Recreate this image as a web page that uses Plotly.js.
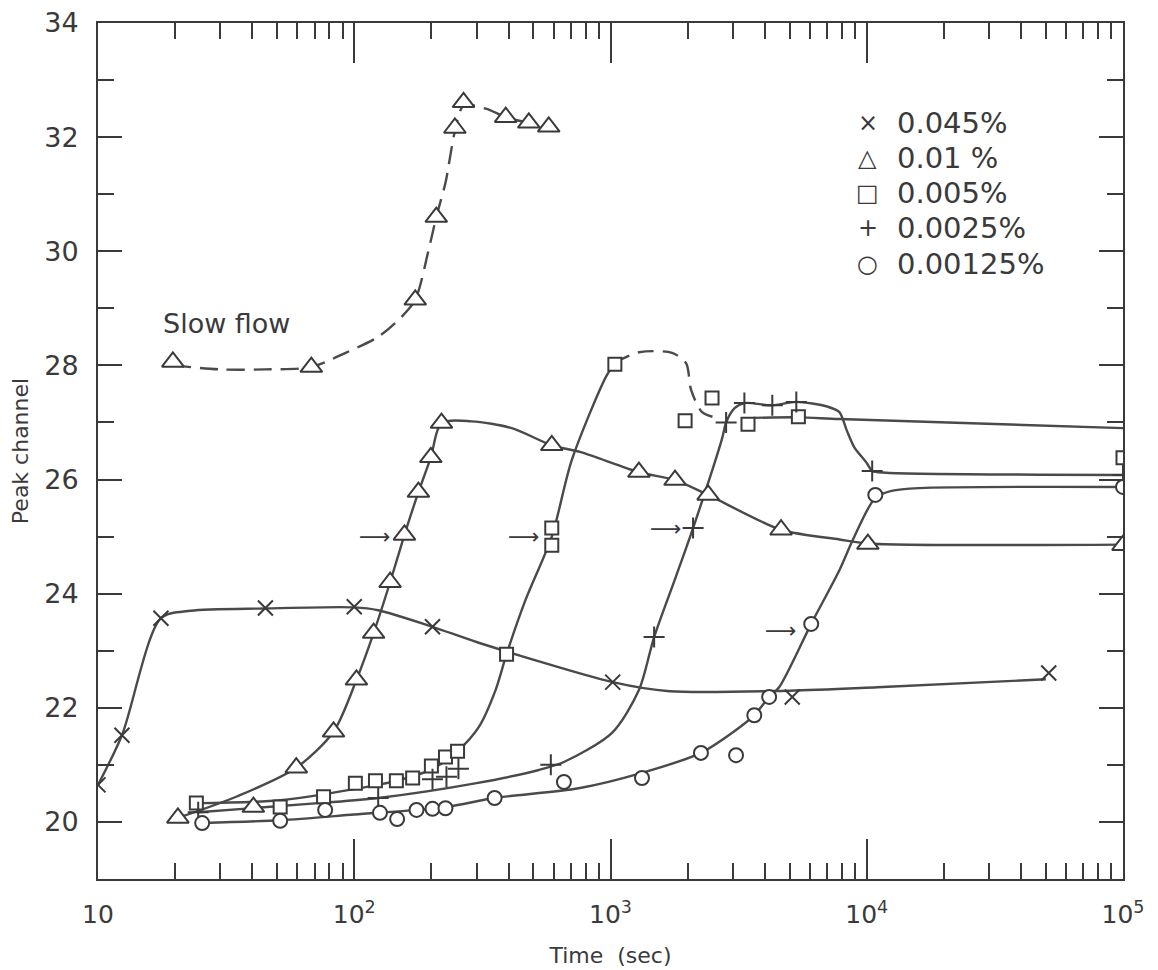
<!DOCTYPE html>
<html>
<head>
<meta charset="utf-8">
<script src="https://cdn.plot.ly/plotly-3.0.1.min.js"></script>
<style>body{margin:0;background:#fff}#chart{width:1158px;height:970px}</style>
</head>
<body>
<div id="chart"></div>
<script>
// ---------- DATA ----------
const xTickVals = [10, 100, 1000, 10000, 100000];
const xTickText = ['10', '10<sup>2</sup>', '10<sup>3</sup>', '10<sup>4</sup>', '10<sup>5</sup>'];
const yTickVals = [20, 22, 24, 26, 28, 30, 32, 34];
const yMinorVals = [19, 21, 23, 25, 27, 29, 31, 33];

const legendSymbols = ['\u00d7', '\u25b3', '\u25a1', '+', '\u25cb'];
const legendLabels = ['0.045%', '0.01 %', '0.005%', '0.0025%', '0.00125%'];

// 0.045 % (x)
const s045X = [10, 12.4, 17.6, 45, 100, 202, 1020, 5120, 51300];
const s045Y = [20.65, 21.52, 23.57, 23.75, 23.77, 23.42, 22.45, 22.19, 22.61];
const c045X = [10, 12.4, 17.6, 23, 45, 100, 124, 202, 306, 1020, 1700, 5000, 11000, 50000];
const c045Y = [20.65, 21.52, 23.57, 23.7, 23.74, 23.76, 23.71, 23.42, 23.14, 22.45, 22.29, 22.3, 22.36, 22.5];

// 0.01 % (triangle) - normal flow
const s01X = [20.5, 40.4, 59.4, 83, 102, 119, 138, 157, 178, 199, 219, 590, 1291, 1786, 2404, 4630, 10100, 100000];
const s01Y = [20.07, 20.26, 20.95, 21.58, 22.49, 23.31, 24.2, 25.03, 25.78, 26.39, 26.99, 26.6, 26.13, 25.99, 25.73, 25.12, 24.87, 24.85];
const c01X = [20.5, 35, 59.4, 83, 102, 119, 138, 157, 178, 199, 219, 287, 412, 590, 766, 1291, 1786, 2404, 4630, 7820, 10100, 100000];
const c01Y = [20.07, 20.45, 20.95, 21.58, 22.49, 23.31, 24.2, 25.03, 25.78, 26.39, 26.99, 27.02, 26.9, 26.6, 26.48, 26.13, 25.99, 25.73, 25.12, 24.95, 24.88, 24.86];

// 0.01 % (triangle) - slow flow
const sSlowX = [19.6, 68, 173, 209, 247, 267, 390, 480, 574];
const sSlowY = [28.06, 27.97, 29.15, 30.6, 32.16, 32.61, 32.35, 32.25, 32.18];
const cSlowX = [19.6, 30, 45, 68, 92.5, 124, 153, 173, 195, 209, 227, 247, 267, 326, 390, 480];
const cSlowY = [28.0, 27.93, 27.93, 27.97, 28.22, 28.5, 28.85, 29.15, 30.02, 30.6, 31.2, 32.1, 32.55, 32.5, 32.35, 32.25];

// 0.005 % (square)
const s005X = [24.2, 51.4, 75.9, 101, 121, 146, 169, 200, 227, 253, 393, 590, 590, 1040, 1955, 2490, 3440, 5410, 100000];
const s005Y = [20.33, 20.26, 20.44, 20.68, 20.72, 20.72, 20.77, 20.98, 21.14, 21.24, 22.94, 25.15, 24.85, 28.02, 27.03, 27.43, 26.97, 27.1, 26.38];
const c005aX = [24.2, 51.4, 101, 146, 200, 253, 306, 356, 393, 466, 590, 706, 968, 1040];
const c005aY = [20.33, 20.38, 20.58, 20.72, 20.92, 21.24, 21.66, 22.31, 22.94, 23.89, 25.0, 26.34, 27.83, 28.02];
const c005bX = [1040, 1291, 1738, 1972, 2063, 2277, 2600];
const c005bY = [28.05, 28.23, 28.22, 28.04, 27.57, 27.18, 27.08];
const c005cX = [3600, 5410, 7820, 100000];
const c005cY = [27.08, 27.09, 27.06, 26.9];

// 0.0025 % (plus)
const s0025X = [24.6, 124, 202, 229, 255, 585, 1480, 2100, 2826, 3330, 4280, 5310, 10500, 100000];
const s0025Y = [20.17, 20.42, 20.75, 20.79, 20.93, 21.0, 23.24, 25.15, 27.0, 27.34, 27.3, 27.36, 26.15, 26.08];
const c0025X = [24.6, 72.5, 124, 300, 525, 658, 1014, 1291, 1480, 1800, 2100, 2730, 2826, 3050, 3330, 4280, 5310, 7000, 7820, 8340, 8930, 10000, 10500, 11940, 100000];
const c0025Y = [20.17, 20.33, 20.42, 20.68, 20.91, 21.05, 21.56, 22.31, 23.24, 24.3, 25.15, 26.73, 27.0, 27.25, 27.34, 27.3, 27.36, 27.28, 27.18, 26.87, 26.57, 26.29, 26.15, 26.12, 26.08];

// 0.00125 % (circle)
const s00125X = [25.5, 51.4, 77, 126, 147, 175, 202, 227, 353, 658, 1327, 2254, 3090, 3640, 4160, 6070, 10800, 100000];
const s00125Y = [19.98, 20.02, 20.21, 20.16, 20.05, 20.21, 20.23, 20.24, 20.42, 20.7, 20.77, 21.21, 21.17, 21.87, 22.19, 23.47, 25.73, 25.87];
const c00125X = [25.5, 51.4, 100, 227, 353, 751, 1327, 2254, 3090, 3640, 4160, 4550, 6070, 7820, 8820, 10800, 12500, 16000, 100000];
const c00125Y = [19.98, 20.03, 20.13, 20.26, 20.42, 20.59, 20.86, 21.21, 21.61, 21.87, 22.19, 22.36, 23.47, 24.41, 24.94, 25.68, 25.8, 25.85, 25.87];

// small arrows (tip positions)
const arrowX = [142, 540, 1930, 5460];
const arrowY = [25.01, 25.0, 25.15, 23.35];

// "Slow flow" label position
const slowLabelX = 17.6;
const slowLabelY = 28.74;

// ---------- STYLE ----------
const INK = '#3a3a3a';
const LINE = '#4a4a4a';
const FONT = 'DejaVu Sans, Liberation Sans, sans-serif';

function lineTrace(x, y, dash) {
  return {x: x, y: y, mode: 'lines', hoverinfo: 'skip',
    line: {color: LINE, width: 2.4, shape: 'spline', smoothing: 0.8, dash: dash || 'solid'}};
}
function markerTrace(x, y, symbol, size) {
  return {x: x, y: y, mode: 'markers', hoverinfo: 'x+y',
    marker: {symbol: symbol, size: size, color: 'white', line: {color: INK, width: 2}}};
}

const minorX = [];
for (let d = 10; d < 100000; d *= 10) {
  for (let k = 2; k <= 9; k++) minorX.push(k * d);
}

const traces = [
  // invisible anchor trace so the minor-tick overlay axes are drawn
  {x: [xTickVals[0]], y: [yMinorVals[0]], xaxis: 'x2', yaxis: 'y2', mode: 'markers',
    marker: {opacity: 0}, hoverinfo: 'skip'},
  lineTrace(c045X, c045Y),
  lineTrace(c01X, c01Y),
  lineTrace(cSlowX, cSlowY, '18px,9px'),
  lineTrace(c005aX, c005aY),
  lineTrace(c005bX, c005bY, '16px,9px'),
  lineTrace(c005cX, c005cY),
  lineTrace(c0025X, c0025Y),
  lineTrace(c00125X, c00125Y),
  markerTrace(s045X, s045Y, 'x-thin', 15),
  markerTrace(s01X, s01Y, 'triangle-up', 19),
  markerTrace(sSlowX, sSlowY, 'triangle-up', 19),
  markerTrace(s005X, s005Y, 'square', 13),
  markerTrace(s0025X, s0025Y, 'cross-thin', 15),
  markerTrace(s00125X, s00125Y, 'circle', 14)
];

const annotations = [];
const legTop = 0.883, legStep = 0.041;
legendLabels.forEach(function (lab, i) {
  annotations.push({xref: 'paper', yref: 'paper', x: 0.751, y: legTop - i * legStep,
    text: legendSymbols[i], showarrow: false, xanchor: 'center', yanchor: 'middle',
    font: {family: FONT, size: 24, color: INK}});
  annotations.push({xref: 'paper', yref: 'paper', x: 0.778, y: legTop - i * legStep,
    text: lab, showarrow: false, xanchor: 'left', yanchor: 'middle',
    font: {family: FONT, size: 29, color: INK}});
});
annotations.push({x: Math.log10(slowLabelX), y: slowLabelY, text: 'Slow flow', showarrow: false,
  xanchor: 'left', yanchor: 'middle', font: {family: FONT, size: 27, color: INK}});
arrowX.forEach(function (ax, i) {
  annotations.push({x: Math.log10(ax), y: arrowY[i], text: '\u27f6', showarrow: false,
    xanchor: 'right', yanchor: 'middle', font: {family: FONT, size: 22, color: INK}});
});

const axisCommon = {showline: true, linecolor: INK, linewidth: 2, mirror: 'allticks',
  showgrid: false, zeroline: false, ticks: 'inside', tickwidth: 2, tickcolor: INK};

const layout = {
  width: 1158, height: 970,
  margin: {l: 98, r: 35, t: 23, b: 91},
  paper_bgcolor: 'white', plot_bgcolor: 'white',
  showlegend: false,
  font: {family: FONT, color: INK},
  xaxis: Object.assign({}, axisCommon, {
    type: 'log', range: [1, 5], tickmode: 'array', tickvals: xTickVals, ticktext: xTickText,
    ticklen: 40, tickfont: {size: 25, color: INK}, ticklabelstandoff: 12,
    title: {text: 'Time  (sec)', font: {size: 22, color: INK}, standoff: 20}
  }),
  yaxis: Object.assign({}, axisCommon, {
    range: [19, 34], tickmode: 'array', tickvals: yTickVals,
    ticklen: 24, tickfont: {size: 27, color: INK}, ticklabelstandoff: 12,
    title: {text: 'Peak channel', font: {size: 22, color: INK}, standoff: 10}
  }),
  xaxis2: Object.assign({}, axisCommon, {
    type: 'log', range: [1, 5], overlaying: 'x', anchor: 'y', side: 'bottom',
    tickmode: 'array', tickvals: minorX, ticklen: 16, showticklabels: false
  }),
  yaxis2: Object.assign({}, axisCommon, {
    range: [19, 34], overlaying: 'y', anchor: 'x', side: 'left',
    tickmode: 'array', tickvals: yMinorVals, ticklen: 16, showticklabels: false
  }),
  annotations: annotations
};

Plotly.newPlot('chart', traces, layout, {staticPlot: true});
</script>
</body>
</html>
